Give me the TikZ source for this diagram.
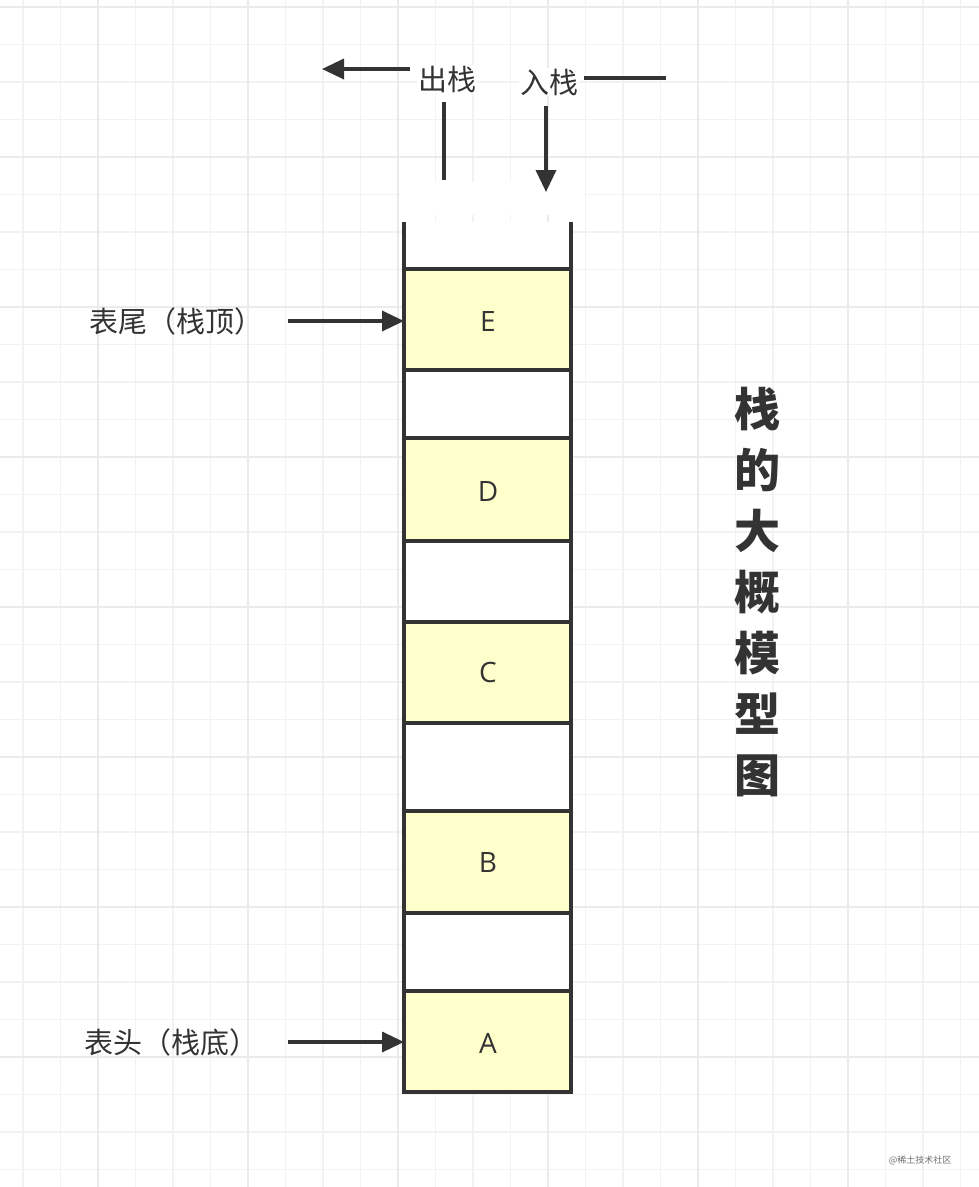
\documentclass[tikz,border=0pt]{standalone}
\usepackage{fontspec}
\setmainfont{Noto Sans CJK SC}
\newfontfamily\lat{Open Sans}
\usetikzlibrary{arrows.meta}
\definecolor{ink}{HTML}{333333}
\definecolor{cellfill}{HTML}{FFFFCC}
\tikzset{
  cell/.style={draw=ink,line width=3.5pt,fill=cellfill},
  gap/.style={draw=ink,line width=3.5pt,fill=white},
  arr/.style={draw=ink,line width=3.5pt,-{Triangle[length=22pt,width=20pt]}},
  plain/.style={draw=ink,line width=3.5pt},
  lbl/.style={text=ink,font=\fontsize{29}{32}\selectfont,inner sep=1pt},
  lett/.style={text=ink,font=\lat\fontsize{28}{30}\selectfont}
}
\begin{document}
\begin{tikzpicture}[x=1pt,y=-1pt]
\fill[white] (0,0) rectangle (979,1187);
\useasboundingbox (0,0) rectangle (979,1187);
% grid
\foreach \i in {0,...,26} {
  \pgfmathsetmacro\xx{23+37.5*(\i-0)}
  \draw[color=black!5,line width=1.5pt] (\xx,0) -- (\xx,1187);
}
\foreach \i in {0,...,31} {
  \pgfmathsetmacro\yy{7+37.5*\i}
  \draw[color=black!5,line width=1.5pt] (0,\yy) -- (979,\yy);
}
\foreach \xx in {98,248,398,548,698,848} \draw[color=black!8,line width=1.8pt] (\xx,0) -- (\xx,1187);
\foreach \yy in {7,157,307,457,607,757,907,1057} \draw[color=black!8,line width=1.8pt] (0,\yy) -- (979,\yy);
% erased smudge
\fill[white] (400,182) rectangle (585,215);
% stack walls
\fill[white] (404,222) rectangle (571,269);
\draw[ink,line width=3.5pt] (404,222) -- (404,1092);
\draw[ink,line width=3.5pt] (571,222) -- (571,1092);
\draw[cell] (404,269) rectangle (571,370);
\draw[gap] (404,370) rectangle (571,438);
\draw[cell] (404,438) rectangle (571,541);
\draw[gap] (404,541) rectangle (571,622);
\draw[cell] (404,622) rectangle (571,723);
\draw[gap] (404,723) rectangle (571,811);
\draw[cell] (404,811) rectangle (571,913);
\draw[gap] (404,913) rectangle (571,991);
\draw[cell] (404,991) rectangle (571,1092);
\node[lett] (E) at (488,321) {E};
\node[lett] (D) at (488,491) {D};
\node[lett] (C) at (488,672) {C};
\node[lett] (B) at (488,862) {B};
\node[lett] (A) at (488,1043) {A};
\coordinate (eL) at (404,321);
\coordinate (aL) at (404,1042);
% side labels
\node[lbl] (top) at (176,321) {表尾（栈顶）};
\node[lbl] (bot) at (171,1042) {表头（栈底）};
\draw[arr] (288,321) -- (eL);
\draw[arr] (288,1042) -- (aL);
% top labels
\node[lbl,fill=white] (out) at (447,79) {出栈};
\node[lbl,fill=white] (in) at (549,82) {入栈};
\coordinate (outL) at (322,69);
\coordinate (outB) at (444,180);
\coordinate (inR) at (666,78);
\coordinate (inB) at (546,192);
\draw[arr] (410,69) -- (outL);
\draw[plain] (444,102) -- (outB);
\draw[plain] (584,78) -- (inR);
\draw[arr] (546,106) -- (inB);
% title
\node[text=ink,font=\bfseries\fontsize{46}{61}\selectfont,align=center,inner sep=0pt] (title) at (757,592)
  {栈\\的\\大\\概\\模\\型\\图};
\node[text=ink!70,font=\fontsize{9}{10}\selectfont] (wm) at (920,1160) {@稀土技术社区};
\end{tikzpicture}
\end{document}
